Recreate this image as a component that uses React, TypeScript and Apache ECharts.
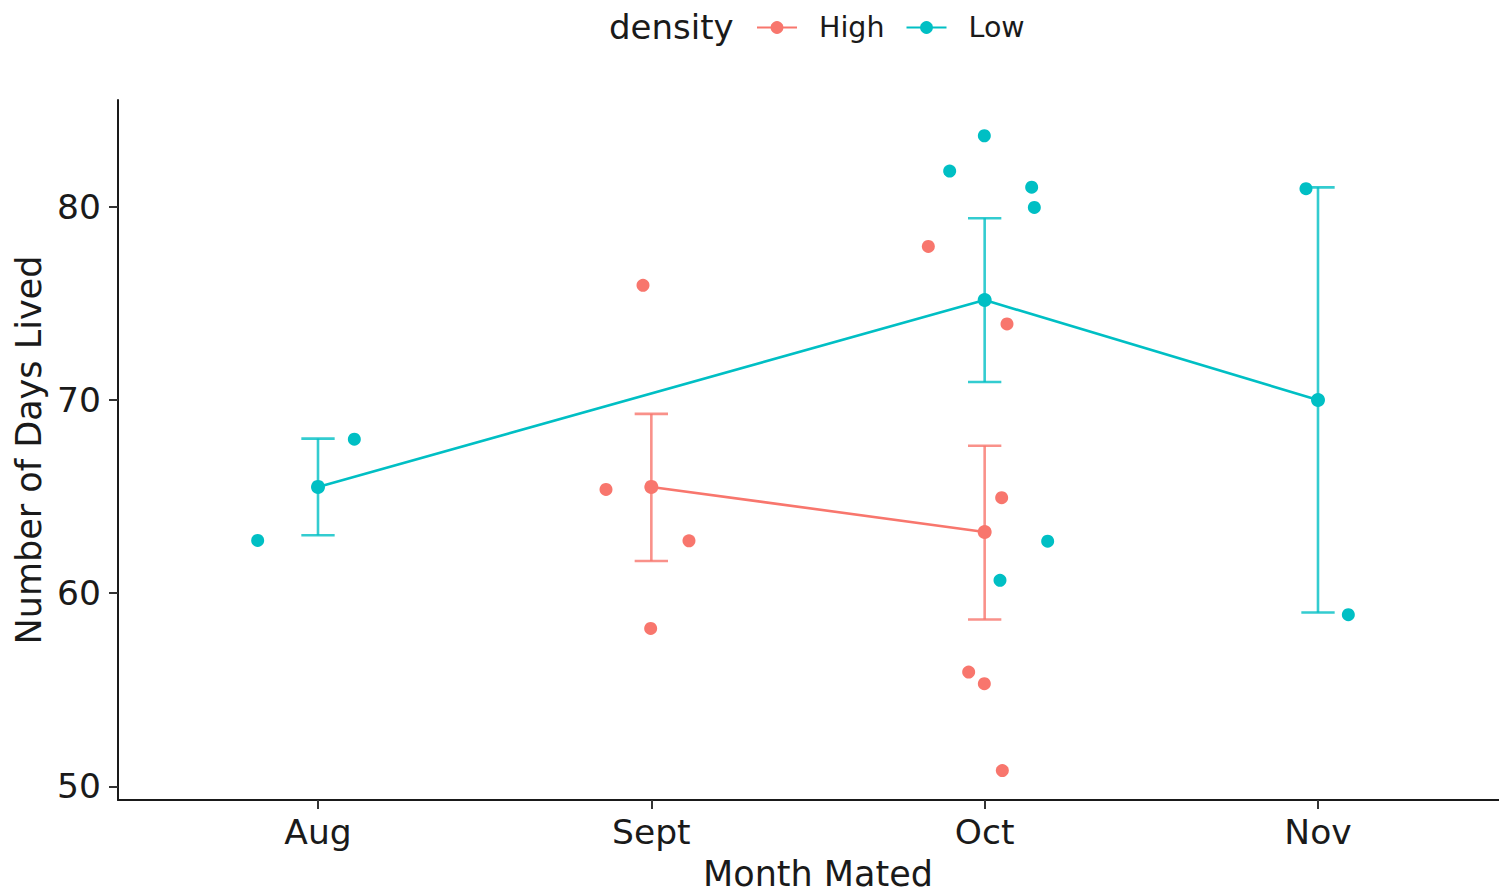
import React, { useEffect, useRef } from "react";
import * as echarts from "echarts";

const months = ["Aug", "Sept", "Oct", "Nov"];
const yTicks = [50, 60, 70, 80];

// mean lines: [x position (1=Aug..4=Nov), mean]
const highMeans = [[2, 65.5], [3, 63.17]];
const lowMeans = [[1, 65.5], [3, 75.17], [4, 70.0]];

// error bars: [x, lower, upper]
const highErr = [[2, 61.67, 69.28], [3, 58.64, 67.63]];
const lowErr = [[1, 63.0, 68.0], [3, 70.93, 79.4], [4, 59.0, 81.0]];

// jittered observations: [x, y]
const highPoints = [
  [1.864, 65.37], [1.975, 75.93], [2.113, 62.71], [1.998, 58.18],
  [2.831, 77.94], [3.067, 73.93], [3.051, 64.94], [2.952, 55.92], [2.999, 55.32], [3.053, 50.82],
];
const lowPoints = [
  [0.819, 62.73], [1.109, 67.97],
  [2.895, 81.84], [2.999, 83.67], [3.141, 81.01], [3.149, 79.96], [3.189, 62.69], [3.046, 60.67],
  [3.964, 80.93], [4.091, 58.89],
];

const RED = "#F8766D";
const TEAL = "#00BFC4";
const FONT = "DejaVu Sans";
const INK = "#1a1a1a";

function errSeries(name: string, data: number[][], color: string) {
  return {
    type: "custom",
    name,
    data,
    encode: { x: 0, y: [1, 2] },
    z: 2,
    renderItem: (params: any, api: any) => {
      const x = api.value(0);
      const lo = api.value(1);
      const hi = api.value(2);
      const pLo = api.coord([x, lo]);
      const pHi = api.coord([x, hi]);
      const half = api.size([0.05, 0])[0];
      const style = { stroke: color, lineWidth: 2.6, opacity: 0.8 };
      return {
        type: "group",
        children: [
          { type: "line", shape: { x1: pLo[0], y1: pLo[1], x2: pHi[0], y2: pHi[1] }, style },
          { type: "line", shape: { x1: pLo[0] - half, y1: pLo[1], x2: pLo[0] + half, y2: pLo[1] }, style },
          { type: "line", shape: { x1: pHi[0] - half, y1: pHi[1], x2: pHi[0] + half, y2: pHi[1] }, style },
        ],
      };
    },
  };
}

export default function App() {
  const ref = useRef<HTMLDivElement>(null);
  useEffect(() => {
    if (!ref.current) return;
    const chart = echarts.init(ref.current, null, { renderer: "svg" });
    chart.setOption({
      animation: false,
      backgroundColor: "#fff",
      textStyle: { fontFamily: FONT },
      title: {
        text: "density",
        left: 604,
        top: 5,
        textStyle: { fontFamily: FONT, fontSize: 34, fontWeight: "normal", color: INK },
      },
      legend: {
        data: ["High", "Low"],
        left: 751,
        top: 8,
        itemWidth: 40,
        itemHeight: 16,
        itemGap: 21,
        textStyle: { fontFamily: FONT, fontSize: 28.5, color: INK, padding: [0, 0, 0, 17] },
      },
      grid: { left: 118, right: 0, top: 100, bottom: 91.7, containLabel: false },
      xAxis: {
        type: "value",
        min: 0.4,
        max: 4.543,
        name: "Month Mated",
        nameLocation: "middle",
        nameGap: 56,
        nameTextStyle: { fontFamily: FONT, fontSize: 35, color: INK, padding: [0, 0, 0, 19] },
        splitLine: { show: false },
        axisLine: { show: true, lineStyle: { color: INK, width: 2 } },
        axisTick: { show: true, length: 9, lineStyle: { color: "#333", width: 2 }, customValues: [1, 2, 3, 4] },
        axisLabel: {
          fontFamily: FONT,
          fontSize: 34.5,
          color: INK,
          margin: 14,
          customValues: [1, 2, 3, 4],
          formatter: (v: number) => months[Math.round(v) - 1] ?? "",
        },
      },
      yAxis: {
        type: "value",
        min: 49.3,
        max: 85.52,
        name: "Number of Days Lived",
        nameLocation: "middle",
        nameRotate: 90,
        nameGap: 70,
        nameTextStyle: { fontFamily: FONT, fontSize: 35, color: INK },
        splitLine: { show: false },
        axisLine: { show: true, lineStyle: { color: INK, width: 2 } },
        axisTick: { show: true, length: 9, lineStyle: { color: "#333", width: 2 }, customValues: yTicks },
        axisLabel: {
          fontFamily: FONT,
          fontSize: 34.5,
          color: INK,
          margin: 17,
          customValues: yTicks,
        },
      },
      series: [
        {
          type: "line",
          name: "High",
          data: highMeans,
          z: 3,
          color: RED,
          symbol: "circle",
          symbolSize: 14,
          lineStyle: { color: RED, width: 2.6 },
          itemStyle: { color: RED },
        },
        {
          type: "line",
          name: "Low",
          data: lowMeans,
          z: 3,
          color: TEAL,
          symbol: "circle",
          symbolSize: 14,
          lineStyle: { color: TEAL, width: 2.6 },
          itemStyle: { color: TEAL },
        },
        errSeries("High error", highErr, RED),
        errSeries("Low error", lowErr, TEAL),
        {
          type: "scatter",
          name: "High points",
          data: highPoints,
          z: 4,
          symbol: "circle",
          symbolSize: 13,
          itemStyle: { color: RED, opacity: 1 },
        },
        {
          type: "scatter",
          name: "Low points",
          data: lowPoints,
          z: 4,
          symbol: "circle",
          symbolSize: 13,
          itemStyle: { color: TEAL, opacity: 1 },
        },
      ],
    });
    return () => chart.dispose();
  }, []);
  return (
    <div
      ref={ref}
      style={{ position: "absolute", left: 0, top: 0, width: 1499, height: 896 }}
    />
  );
}
